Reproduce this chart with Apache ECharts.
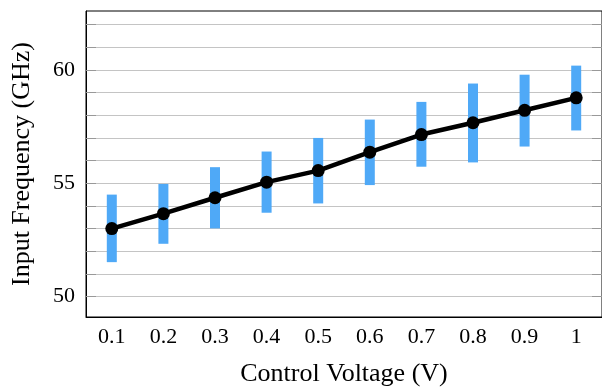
<!DOCTYPE html>
<html><head><meta charset="utf-8">
<script src="https://cdn.jsdelivr.net/npm/echarts@6/dist/echarts.min.js"></script>
<style>html,body{margin:0;padding:0;background:#fff}#c{width:602px;height:392px}</style>
</head><body><div id="c"></div>
<script>
var categories = ['0.1','0.2','0.3','0.4','0.5','0.6','0.7','0.8','0.9','1'];
var centerValues = [53.0, 53.66, 54.36, 55.05, 55.56, 56.37, 57.15, 57.67, 58.22, 58.77];
var lowerValues = [51.52, 52.33, 53.01, 53.70, 54.11, 54.92, 55.73, 55.92, 56.62, 57.33];
var upperValues = [54.50, 54.97, 55.71, 56.40, 57.00, 57.81, 58.59, 59.40, 59.79, 60.19];
var yLabelValues = [50, 55, 60];
var yTickValues = [49, 50, 51, 52, 53, 54, 55, 56, 57, 58, 59, 60, 61, 62];

var font = 'Liberation Serif';
var chart = echarts.init(document.getElementById('c'), null, {renderer: 'canvas'});
var errData = categories.map(function (c, i) { return [i, lowerValues[i], upperValues[i]]; });
chart.setOption({
  animation: false,
  grid: {left: 86, top: 11, width: 518, height: 307, show: true, borderColor: '#000', borderWidth: 1, backgroundColor: 'transparent'},
  xAxis: {
    type: 'category', data: categories, boundaryGap: true,
    axisLine: {lineStyle: {color: '#000', width: 1}},
    axisTick: {show: false},
    axisLabel: {fontFamily: font, fontSize: 22, color: '#000', margin: 9},
    name: 'Control Voltage (V)', nameLocation: 'middle', nameGap: 44,
    nameTextStyle: {fontFamily: font, fontSize: 26, color: '#000'}
  },
  yAxis: [{
    type: 'value', min: 49.1, max: 62.6, position: 'left',
    axisLine: {show: true, lineStyle: {color: '#000', width: 1}},
    axisTick: {show: true, inside: true, length: 10, customValues: yTickValues, lineStyle: {color: '#999'}},
    axisLabel: {customValues: yLabelValues, fontFamily: font, fontSize: 22, color: '#000', margin: 11},
    splitLine: {show: true, lineStyle: {color: '#c4c4c4', width: 1}},
    name: 'Input Frequency (GHz)', nameLocation: 'middle', nameGap: 51,
    nameTextStyle: {fontFamily: font, fontSize: 26, color: '#000'}
  }, {
    type: 'value', min: 49.1, max: 62.6, position: 'right',
    axisLine: {show: false},
    axisTick: {show: true, inside: true, length: 10, customValues: yTickValues, lineStyle: {color: '#999'}},
    axisLabel: {show: false},
    splitLine: {show: false}
  }],
  series: [{
    type: 'custom', z: 2,
    data: errData,
    renderItem: function (params, api) {
      var p1 = api.coord([api.value(0), api.value(1)]);
      var p2 = api.coord([api.value(0), api.value(2)]);
      var w = 10;
      return {type: 'rect', shape: {x: p1[0] - w / 2, y: p2[1], width: w, height: p1[1] - p2[1]},
        style: {fill: '#4fa9f7'}};
    },
    encode: {x: 0, y: [1, 2]}
  }, {
    type: 'line', z: 3, data: centerValues,
    lineStyle: {color: '#000', width: 4.5},
    itemStyle: {color: '#000'},
    symbol: 'circle', symbolSize: 13, showSymbol: true
  }]
});
</script></body></html>
